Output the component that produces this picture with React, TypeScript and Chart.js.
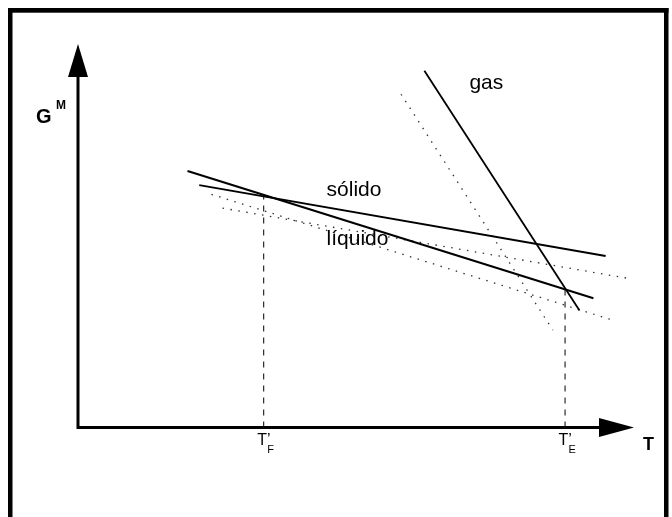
import { useEffect, useRef } from "react";
import { Chart, registerables } from "chart.js";

Chart.register(...registerables);

// ---- data (arbitrary units: T on x from 0 to 10, G^M on y from 0 to 10) ----
const T_MIN = 0;
const T_MAX = 10;
const G_MIN = 0;
const G_MAX = 10;

const solidoT = [2.18, 9.49];
const solidoG = [6.32, 4.47];
const liquidoT = [1.97, 9.27];
const liquidoG = [6.69, 3.37];
const gasT = [6.23, 9.02];
const gasG = [9.3, 3.05];

// dotted (metastable / shifted) lines
const gasDotT = [5.81, 8.54];
const gasDotG = [8.69, 2.54];
const solidoDotT = [2.6, 9.89];
const solidoDotG = [5.72, 3.89];
const liquidoDotT = [2.4, 9.66];
const liquidoDotG = [6.08, 2.78];

// transition temperatures and the G values where the dashed guides stop
const transT = [3.34, 8.76];
const transG = [6.05, 3.61];
const transSub = ["F", "E"];

// phase labels
const phaseNames = ["sólido", "líquido", "gas"];
const phaseT = [4.47, 4.47, 7.04];
const phaseG = [6.04, 4.76, 8.82];

const FONT = "'Liberation Sans', Arial, Helvetica, sans-serif";

const pts = (xs: number[], ys: number[]) => xs.map((x, i) => ({ x, y: ys[i] }));

const framePlugin = {
  id: "frame",
  beforeDraw(chart: any) {
    const { ctx, width, height } = chart;
    ctx.save();
    ctx.fillStyle = "#ffffff";
    ctx.fillRect(0, 0, width, height);
    ctx.fillStyle = "#000000";
    ctx.fillRect(8, 8, 4.5, height - 8);
    ctx.fillRect(8, 8, 660.5, 4.7);
    ctx.fillRect(664, 8, 4.5, height - 8);
    ctx.restore();
  },
};

const axesPlugin = {
  id: "arrowAxes",
  beforeDatasetsDraw(chart: any) {
    const { ctx } = chart;
    const xs = chart.scales.x;
    const ys = chart.scales.y;
    const x0 = xs.getPixelForValue(T_MIN);
    const y0 = ys.getPixelForValue(G_MIN);
    const x1 = xs.getPixelForValue(T_MAX);
    const y1 = ys.getPixelForValue(G_MAX);
    ctx.save();
    ctx.strokeStyle = "#000";
    ctx.fillStyle = "#000";
    ctx.lineWidth = 3;
    ctx.lineCap = "butt";
    ctx.beginPath();
    ctx.moveTo(x0, y0 + 1.5);
    ctx.lineTo(x0, y1 + 30);
    ctx.moveTo(x0 - 1.5, y0);
    ctx.lineTo(x1 - 32, y0);
    ctx.stroke();
    // arrow heads
    ctx.beginPath();
    ctx.moveTo(x0, y1);
    ctx.lineTo(x0 - 10, y1 + 33);
    ctx.lineTo(x0 + 10, y1 + 33);
    ctx.closePath();
    ctx.fill();
    ctx.beginPath();
    ctx.moveTo(x1, y0);
    ctx.lineTo(x1 - 35, y0 - 9.5);
    ctx.lineTo(x1 - 35, y0 + 9.5);
    ctx.closePath();
    ctx.fill();
    ctx.restore();
  },
  afterDatasetsDraw(chart: any) {
    const { ctx } = chart;
    const xs = chart.scales.x;
    const ys = chart.scales.y;
    const x0 = xs.getPixelForValue(T_MIN);
    const y0 = ys.getPixelForValue(G_MIN);
    const x1 = xs.getPixelForValue(T_MAX);
    const y1 = ys.getPixelForValue(G_MAX);
    ctx.save();
    ctx.fillStyle = "#000";
    ctx.textAlign = "left";
    ctx.textBaseline = "alphabetic";
    // axis titles
    ctx.font = `bold 20px ${FONT}`;
    ctx.fillText("G", x0 - 42, y1 + 78.5);
    ctx.font = `bold 12px ${FONT}`;
    ctx.fillText("M", x0 - 22, y1 + 65);
    ctx.font = `bold 18px ${FONT}`;
    ctx.fillText("T", x1 + 9, y0 + 22.5);
    // phase labels
    ctx.font = `21px ${FONT}`;
    phaseNames.forEach((name, i) => {
      ctx.fillText(name, xs.getPixelForValue(phaseT[i]), ys.getPixelForValue(phaseG[i]));
    });
    // transition temperature labels
    transT.forEach((t, i) => {
      const px = xs.getPixelForValue(t);
      ctx.font = `16px ${FONT}`;
      ctx.fillText("T\u2019", px - 6.5, y0 + 17.5);
      ctx.font = `11px ${FONT}`;
      ctx.fillText(transSub[i], px + 3.5, y0 + 25.5);
    });
    ctx.restore();
  },
};

export default function App() {
  const ref = useRef<HTMLCanvasElement | null>(null);

  useEffect(() => {
    if (!ref.current) return;
    const solid = { borderColor: "#000", backgroundColor: "#000", pointRadius: 0, showLine: true, fill: false };
    const dotted = {
      borderColor: "#333",
      pointRadius: 0,
      showLine: true,
      fill: false,
      borderWidth: 1.3,
      borderDash: [1.5, 6.5],
    };
    const dashed = {
      borderColor: "#000",
      pointRadius: 0,
      showLine: true,
      fill: false,
      borderWidth: 1,
      borderDash: [6, 6],
    };
    const chart = new Chart(ref.current, {
      type: "scatter",
      data: {
        datasets: [
          { label: "sólido", data: pts(solidoT, solidoG), borderWidth: 2, ...solid },
          { label: "líquido", data: pts(liquidoT, liquidoG), borderWidth: 2, ...solid },
          { label: "gas", data: pts(gasT, gasG), borderWidth: 1.8, ...solid },
          { label: "gas (punteado)", data: pts(gasDotT, gasDotG), ...dotted },
          { label: "sólido (punteado)", data: pts(solidoDotT, solidoDotG), ...dotted },
          { label: "líquido (punteado)", data: pts(liquidoDotT, liquidoDotG), ...dotted },
          ...transT.map((t, i) => ({
            label: "T'" + transSub[i],
            data: [
              { x: t, y: G_MIN },
              { x: t, y: transG[i] },
            ],
            ...dashed,
          })),
        ] as any,
      },
      options: {
        responsive: false,
        animation: false,
        events: [],
        layout: { padding: { left: 78, right: 38, top: 44, bottom: 89.5 } },
        scales: {
          x: { type: "linear", min: T_MIN, max: T_MAX, display: false },
          y: { type: "linear", min: G_MIN, max: G_MAX, display: false },
        },
        plugins: { legend: { display: false }, tooltip: { enabled: false } },
      },
      plugins: [framePlugin, axesPlugin],
    });
    return () => chart.destroy();
  }, []);

  return (
    <div style={{ position: "fixed", left: 0, top: 0, width: 672, height: 517 }}>
      <canvas ref={ref} width={672} height={517} style={{ width: 672, height: 517, display: "block" }} />
    </div>
  );
}
